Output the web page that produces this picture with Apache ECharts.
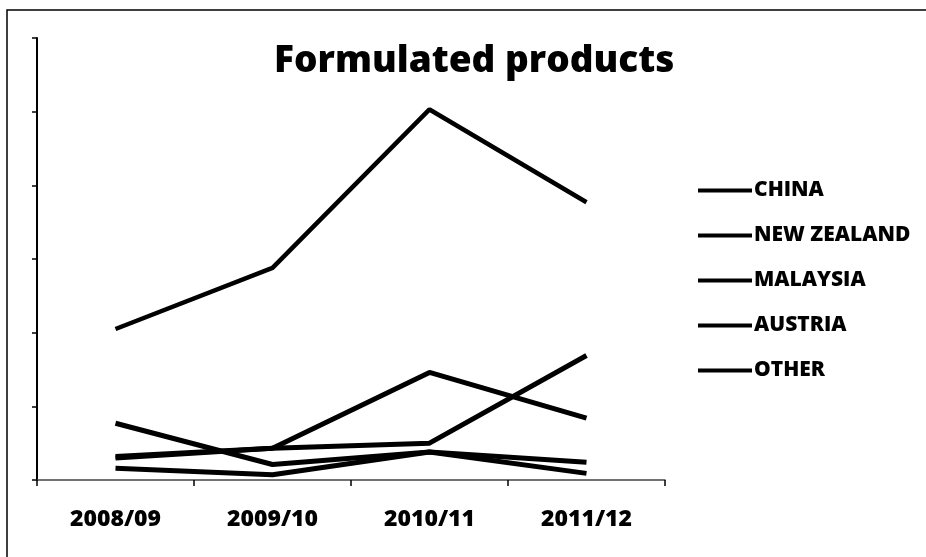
<!DOCTYPE html>
<html>
<head>
<meta charset="utf-8">
<script src="https://cdn.jsdelivr.net/npm/echarts@6/dist/echarts.min.js"></script>
<style>
html,body{margin:0;padding:0;background:#fff;}
#chart{width:926px;height:557px;}
</style>
</head>
<body>
<div id="chart"></div>
<script>
const titleText = 'Formulated products';
const categories = ['2008/09', '2009/10', '2010/11', '2011/12'];
const seriesNames = ['CHINA', 'NEW ZEALAND', 'MALAYSIA', 'AUSTRIA', 'OTHER'];
const china = [2.05, 2.88, 5.03, 3.77];
const newZealand = [0.32, 0.43, 1.46, 0.84];
const malaysia = [0.30, 0.43, 0.50, 1.69];
const austria = [0.77, 0.21, 0.38, 0.24];
const other = [0.16, 0.07, 0.38, 0.09];
const yTicks = [0, 1, 2, 3, 4, 5, 6];

const seriesValues = [china, newZealand, malaysia, austria, other];
const FONT = '"Open Sans", "DejaVu Sans", sans-serif';

const chart = echarts.init(document.getElementById('chart'), null, {renderer: 'canvas'});
chart.setOption({
  animation: false,
  backgroundColor: '#fff',
  title: {
    text: titleText,
    left: 274,
    top: 41,
    padding: 0,
    textStyle: {fontFamily: FONT, fontWeight: 800, fontSize: 37, color: '#000', lineHeight: 40}
  },
  legend: {
    orient: 'vertical',
    left: 698,
    top: 180,
    padding: 0,
    itemGap: 24,
    itemWidth: 54,
    itemHeight: 4,
    icon: 'rect',
    data: seriesNames,
    textStyle: {fontFamily: FONT, fontWeight: 800, fontSize: 21, color: '#000', lineHeight: 21, padding: [0, 0, 0, -3]}
  },
  graphic: [{
    type: 'rect',
    shape: {x: 7, y: 10, width: 2000, height: 2000},
    style: {fill: 'none', stroke: '#000', lineWidth: 1.5},
    silent: true
  }],
  grid: {left: 37, right: 261, top: 38, bottom: 77, containLabel: false},
  xAxis: {
    type: 'category',
    data: categories,
    boundaryGap: true,
    axisLine: {lineStyle: {color: '#444', width: 1.5}},
    axisTick: {show: true, length: 6, inside: false, lineStyle: {color: '#000', width: 1.5}},
    axisLabel: {margin: 28, fontFamily: FONT, fontWeight: 800, fontSize: 23, color: '#000'},
    splitLine: {show: false}
  },
  yAxis: {
    type: 'value',
    min: yTicks[0],
    max: yTicks[yTicks.length - 1],
    interval: 1,
    axisLine: {show: true, lineStyle: {color: '#000', width: 2}},
    axisTick: {show: true, length: 5, inside: false, lineStyle: {color: '#000', width: 1.5}},
    axisLabel: {show: false},
    splitLine: {show: false}
  },
  series: seriesNames.map((name, i) => ({
    name: name,
    type: 'line',
    data: seriesValues[i],
    showSymbol: false,
    symbol: 'none',
    lineStyle: {color: '#000', width: i === 0 ? 4.5 : 5},
    itemStyle: {color: '#000'},
    z: 5 - i
  }))
});
</script>
</body>
</html>
